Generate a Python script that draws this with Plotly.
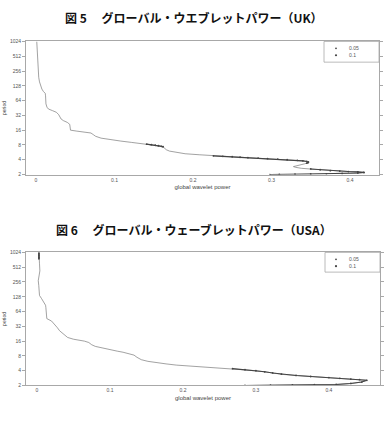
import math
import plotly.graph_objects as go

# ---------------- data ----------------
uk_period = [1024, 700, 530, 350, 245, 190, 154, 125, 110, 98, 90, 80, 65, 55, 47, 43, 40, 37, 33, 30,
             27, 25, 23, 21, 18, 16, 15.3, 14.5, 14, 13, 12, 11, 10.2, 9.6, 9.0, 8.5, 8.2, 7.9, 7.6, 7.3,
             6.9, 6.4, 6.0, 5.6, 5.3, 5.05, 4.8, 4.6, 4.4, 4.2, 4.05, 3.9, 3.75, 3.62, 3.45, 3.3, 3.13,
             3.0, 2.9, 2.8, 2.68, 2.55, 2.4, 2.3, 2.24, 2.2, 2.15, 2.1, 2.07, 2.05, 2.03, 2.01, 2.0]
uk_power = [0.001, 0.0015, 0.002, 0.0025, 0.003, 0.0035, 0.0045, 0.006, 0.0075, 0.0095, 0.0118, 0.0122,
            0.0123, 0.0127, 0.014, 0.016, 0.021, 0.026, 0.029, 0.030, 0.032, 0.035, 0.040, 0.043, 0.0432,
            0.044, 0.052, 0.064, 0.070, 0.073, 0.076, 0.083, 0.095, 0.108, 0.122, 0.135, 0.145, 0.152,
            0.158, 0.162, 0.164, 0.166, 0.170, 0.179, 0.190, 0.208, 0.226, 0.250, 0.270, 0.295, 0.315,
            0.333, 0.343, 0.347, 0.346, 0.342, 0.336, 0.330, 0.328, 0.331, 0.338, 0.355, 0.375, 0.398,
            0.415, 0.418, 0.41, 0.39, 0.37, 0.35, 0.33, 0.31, 0.298]

uk_sig10_period = [8.3, 8.1, 7.9, 7.7, 7.5, 7.35]
uk_sig10_power = [0.141, 0.147, 0.152, 0.156, 0.160, 0.162]

uk_sig05_period = [4.8, 4.7, 4.6, 4.5, 4.4, 4.3, 4.2, 4.1, 4.0, 3.9, 3.8, 3.7, 3.62, 3.5, 3.4, None,
                   2.6, 2.5, 2.4, 2.35, 2.3, 2.26, 2.22, 2.2, 2.15, 2.1, 2.07, 2.05, 2.03, 2.01, 2.0]
uk_sig05_power = [0.226, 0.238, 0.25, 0.26, 0.27, 0.283, 0.295, 0.308, 0.32, 0.333, 0.34, 0.345, 0.347,
                  0.347, 0.345, None, 0.35, 0.362, 0.375, 0.387, 0.398, 0.41, 0.417, 0.418, 0.41, 0.39,
                  0.37, 0.35, 0.33, 0.31, 0.298]

us_period = [1024, 900, 760, 600, 430, 340, 272, 216, 171, 136, 117, 100, 86, 78, 68, 55, 46, 41, 37, 34,
             30, 26, 23, 20, 19, 17.5, 17, 16, 15, 13.5, 12.5, 11.5, 10.7, 10, 9.5, 8.8, 8.3, 7.5, 6.7,
             6.2, 5.8, 5.5, 5.2, 4.9, 4.6, 4.4, 4.0, 3.6, 3.37, 3.1, 2.9, 2.7, 2.55, 2.35, 2.2, 2.1,
             2.07, 2.05, 2.03, 2.0]
us_power = [0.0027, 0.0027, 0.0027, 0.0035, 0.004, 0.003, 0.0018, 0.0025, 0.003, 0.0035, 0.0064, 0.009,
            0.0118, 0.0122, 0.0125, 0.013, 0.0135, 0.020, 0.023, 0.025, 0.028, 0.031, 0.035, 0.039, 0.042,
            0.050, 0.057, 0.065, 0.071, 0.075, 0.080, 0.090, 0.100, 0.110, 0.118, 0.127, 0.133, 0.137,
            0.143, 0.152, 0.164, 0.177, 0.191, 0.215, 0.245, 0.268, 0.300, 0.323, 0.335, 0.37, 0.40,
            0.43, 0.452, 0.445, 0.43, 0.41, 0.38, 0.35, 0.32, 0.285]

us_sig10_period = [1024, 950, 880, 820, 760]
us_sig10_power = [0.0027, 0.0027, 0.0027, 0.0027, 0.0027]

us_sig05_period = [4.4, 4.2, 4.0, 3.8, 3.6, 3.4, 3.2, 3.05, 2.9, 2.8, 2.7, 2.62, 2.55, 2.35, 2.2, 2.1,
                   2.07, 2.05, 2.03, 2.0]
us_sig05_power = [0.268, 0.285, 0.300, 0.312, 0.323, 0.335, 0.355, 0.375, 0.40, 0.415, 0.43, 0.442,
                  0.452, 0.445, 0.43, 0.41, 0.38, 0.35, 0.32, 0.285]

period_ticks = [2, 4, 8, 16, 32, 64, 128, 256, 512, 1024]
power_ticks = [0, 0.1, 0.2, 0.3, 0.4]
power_tick_text = ["0", "0.1", "0.2", "0.3", "0.4"]
legend_labels = ["0.05", "0.1"]
titles = ["図 5　 グローバル・ウエブレットパワー（UK）",
          "図 6　 グローバル・ウェーブレットパワー（USA）"]

# ---------------- figure ----------------
W, H = 388, 422
LINE = "#7a7a7a"
DARK = "#444444"
AX = "#a8a8a8"
TICKF = dict(family="Liberation Sans, Arial", size=5, color="#555")

fig = go.Figure()

panels = [
    dict(xa="x", ya="y", p=uk_period, v=uk_power, s10=(uk_sig10_period, uk_sig10_power),
         s05=(uk_sig05_period, uk_sig05_power)),
    dict(xa="x2", ya="y2", p=us_period, v=us_power, s10=(us_sig10_period, us_sig10_power),
         s05=(us_sig05_period, us_sig05_power)),
]
for pn in panels:
    fig.add_trace(go.Scatter(x=pn["v"], y=pn["p"], mode="lines", xaxis=pn["xa"], yaxis=pn["ya"],
                             line=dict(color=LINE, width=0.7), showlegend=False, hoverinfo="skip"))
    fig.add_trace(go.Scatter(x=pn["s05"][1], y=pn["s05"][0], mode="lines+markers", name=legend_labels[0],
                             xaxis=pn["xa"], yaxis=pn["ya"], connectgaps=False,
                             line=dict(color=DARK, width=1.1), marker=dict(color=DARK, size=1.8),
                             showlegend=False))
    fig.add_trace(go.Scatter(x=pn["s10"][1], y=pn["s10"][0], mode="lines+markers", name=legend_labels[1],
                             xaxis=pn["xa"], yaxis=pn["ya"],
                             line=dict(color=DARK, width=1.3), marker=dict(color=DARK, size=1.8),
                             showlegend=False))

ylog = [math.log10(2), math.log10(1024)]


def xaxis(domain, rng, anchor):
    return dict(domain=domain, range=rng, anchor=anchor, tickvals=power_ticks, ticktext=power_tick_text,
                tickfont=TICKF, ticks="", showgrid=False, zeroline=False, showline=True, linecolor=AX,
                linewidth=1, mirror=True,
                title=dict(text="global wavelet power", font=dict(family="Liberation Sans, Arial", size=6,
                                                                   color="#444"), standoff=3))


def yaxis(domain, anchor):
    return dict(domain=domain, type="log", range=ylog, anchor=anchor, tickvals=period_ticks,
                ticktext=[str(t) for t in period_ticks], tickfont=TICKF, ticks="outside", ticklen=3,
                tickcolor=AX, showgrid=False, zeroline=False, showline=True, linecolor=AX, linewidth=1,
                mirror="ticks",
                title=dict(text="period", font=dict(family="Liberation Sans, Arial", size=5, color="#444"),
                           standoff=3))


top = [1 - 174 / H, 1 - 39 / H]
bot = [1 - 388 / H, 1 - 253 / H]
fig.update_layout(
    width=W, height=H, margin=dict(l=0, r=0, t=0, b=0),
    paper_bgcolor="white", plot_bgcolor="white",
    xaxis=xaxis([26 / W, 379 / W], [-0.0127, 0.437], "y"),
    yaxis=yaxis(top, "x"),
    xaxis2=xaxis([26 / W, 380 / W], [-0.015, 0.47], "y2"),
    yaxis2=yaxis(bot, "x2"),
    showlegend=False,
)

# titles
for txt, yy in zip(titles, [15, 230]):
    fig.add_annotation(text="<b>" + txt + "</b>", xref="paper", yref="paper", x=0.5, y=1 - yy / H,
                       xanchor="center", yanchor="middle", showarrow=False,
                       font=dict(family="Noto Sans CJK JP", size=12, color="#111"))

# legend boxes (drawn by hand to match the compact box)
for (x0, x1, y0, y1) in [(324, 379, 39, 60), (325, 380, 253, 273)]:
    fig.add_shape(type="rect", xref="paper", yref="paper", x0=x0 / W, x1=x1 / W, y0=1 - y1 / H,
                  y1=1 - y0 / H, line=dict(color=AX, width=0.8), fillcolor="white", layer="above")
    for i, lab in enumerate(legend_labels):
        yc = y0 + 7 + i * 7
        r = 0.9 if i == 0 else 1.1
        fig.add_shape(type="circle", xref="paper", yref="paper", x0=(336 - r) / W, x1=(336 + r) / W,
                      y0=1 - (yc + r) / H, y1=1 - (yc - r) / H, fillcolor=DARK, line=dict(width=0),
                      layer="above")
        fig.add_annotation(text=lab, xref="paper", yref="paper", x=347 / W, y=1 - yc / H, xanchor="left",
                           yanchor="middle", showarrow=False, font=TICKF)

fig.write_html("out.html")
